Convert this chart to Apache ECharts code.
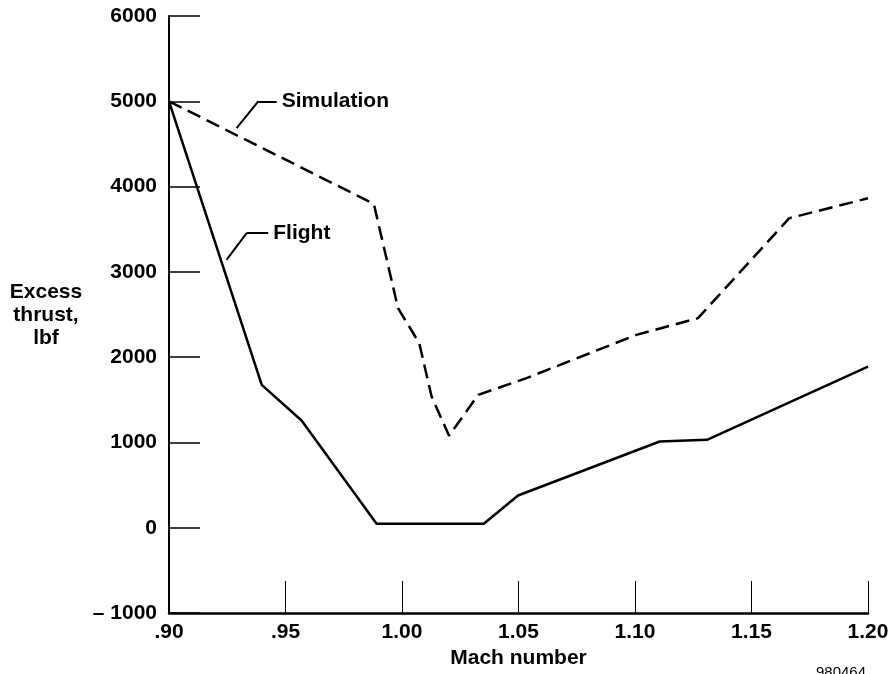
<!DOCTYPE html>
<html>
<head>
<meta charset="utf-8">
<script src="https://cdn.jsdelivr.net/npm/echarts@6/dist/echarts.min.js"></script>
<style>
html,body{margin:0;padding:0;background:#fff;}
#c{width:895px;height:674px;}
</style>
</head>
<body>
<div id="c"></div>
<script>
// Data (Mach number, excess thrust in lbf)
const flightMach   = [0.90, 0.9398, 0.9569, 0.9891, 1.0351, 1.0498, 1.1106, 1.1309, 1.200];
const flightThrust = [5000, 1675, 1257, 47, 47, 378, 1011, 1031, 1890];
const simMach      = [0.90, 0.9879, 0.9983, 1.0074, 1.0127, 1.0202, 1.0327, 1.0534, 1.1006, 1.1270, 1.1662, 1.200];
const simThrust    = [5000, 3797, 2574, 2164, 1538, 1078, 1558, 1754, 2261, 2457, 3629, 3863];
const xTickLabels  = ['.90', '.95', '1.00', '1.05', '1.10', '1.15', '1.20'];
const yTickLabels  = ['\u2013 1000', '0', '1000', '2000', '3000', '4000', '5000', '6000'];
// Leader lines for the curve labels (data coords)
const simLeader    = [[0.929, 4684], [0.9383, 5000], [0.9462, 5000]];
const flightLeader = [[0.9247, 3140], [0.9333, 3453], [0.9426, 3453]];

const FONT = 'Liberation Sans';
const zip = (a, b) => a.map((v, i) => [v, b[i]]);

function leader(points, text) {
  const segs = [];
  for (let i = 0; i < points.length - 1; i++) {
    const last = i === points.length - 2;
    segs.push([
      { coord: points[i] },
      { coord: points[i + 1],
        label: last ? { show: true, position: 'end', formatter: text, distance: 5,
          color: '#000', fontFamily: FONT, fontWeight: 'bold', fontSize: 21 } : { show: false } }
    ]);
  }
  return {
    silent: true, symbol: ['none', 'none'], animation: false,
    lineStyle: { color: '#000', width: 2, type: 'solid' },
    label: { show: false },
    data: segs
  };
}

const chart = echarts.init(document.getElementById('c'), null, { renderer: 'canvas' });
chart.setOption({
  animation: false,
  backgroundColor: '#fff',
  grid: { left: 169, right: 27, top: 16, bottom: 61, containLabel: false },
  xAxis: {
    type: 'value', min: 0.9, max: 1.2, interval: 0.05,
    name: 'Mach number', nameLocation: 'middle', nameGap: 33,
    nameTextStyle: { color: '#000', fontFamily: FONT, fontWeight: 'bold', fontSize: 21 },
    axisLine: { onZero: false, lineStyle: { color: '#000', width: 2.5 } },
    axisTick: { inside: true, length: 32, lineStyle: { color: '#000', width: 1 } },
    axisLabel: { margin: 9, color: '#000', fontFamily: FONT, fontWeight: 'bold', fontSize: 21,
      formatter: v => xTickLabels[Math.round((v - 0.9) / 0.05)] },
    splitLine: { show: false }
  },
  yAxis: {
    type: 'value', min: -1000, max: 6000, interval: 1000,
    axisLine: { onZero: false, lineStyle: { color: '#000', width: 2 } },
    axisTick: { inside: true, length: 31, lineStyle: { color: '#000', width: 1.5 } },
    axisLabel: { margin: 12, color: '#000', fontFamily: FONT, fontWeight: 'bold', fontSize: 21,
      formatter: v => yTickLabels[Math.round((v + 1000) / 1000)] },
    splitLine: { show: false }
  },
  graphic: [
    { type: 'text', x: 46, y: 315, silent: true,
      style: { text: 'Excess\nthrust,\nlbf', align: 'center', verticalAlign: 'middle',
        lineHeight: 23, fill: '#000', font: 'bold 21px "Liberation Sans"' } },
    { type: 'text', x: 866, y: 665, silent: true,
      style: { text: '980464', align: 'right', verticalAlign: 'top',
        fill: '#000', font: '15px "Liberation Sans"' } }
  ],
  series: [
    {
      name: 'Simulation', type: 'line', data: zip(simMach, simThrust),
      showSymbol: false, symbol: 'none', clip: false,
      lineStyle: { color: '#000', width: 2.5, type: [14, 7] },
      markLine: leader(simLeader, 'Simulation')
    },
    {
      name: 'Flight', type: 'line', data: zip(flightMach, flightThrust),
      showSymbol: false, symbol: 'none', clip: false,
      lineStyle: { color: '#000', width: 2.5 },
      markLine: leader(flightLeader, 'Flight')
    }
  ]
});
</script>
</body>
</html>
